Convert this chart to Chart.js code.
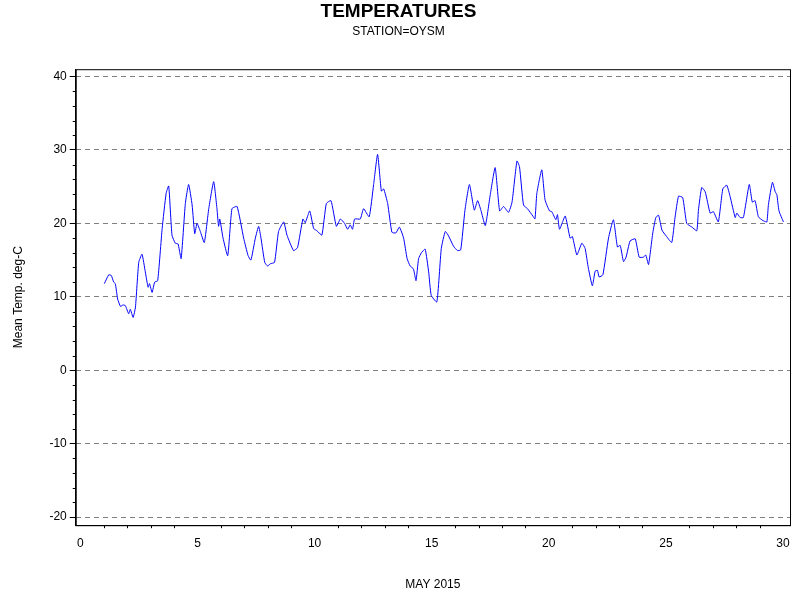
<!DOCTYPE html>
<html>
<head>
<script src="https://cdn.jsdelivr.net/npm/chart.js@4"></script>
<style>
  body { margin: 0; background: #fff; }
  #wrap { width: 800px; height: 600px; }
</style>
</head>
<body>
<div id="wrap"><canvas id="tempChart"></canvas></div>
<script>
// day of month (fractional) and mean temperature
const days = [1.02,1.21,1.32,1.42,1.49,1.59,1.71,1.82,1.92,2.06,2.13,2.25,2.35,2.49,2.63,2.77,2.89,2.95,3.06,3.17,3.30,3.49,3.66,3.77,3.91,4.05,4.17,4.30,4.48,4.62,4.77,4.88,4.98,5.12,5.29,5.48,5.69,5.83,5.90,5.95,6.09,6.29,6.47,6.69,6.97,7.16,7.28,7.47,7.61,7.71,7.87,7.99,8.11,8.29,8.46,8.68,8.82,9.10,9.27,9.50,9.60,9.79,
  9.96,10.10,10.31,10.50,10.70,10.93,11.10,11.28,11.41,11.52,11.62,11.71,11.95,12.09,12.33,12.52,12.69,12.85,12.95,13.12,13.30,13.47,13.62,13.80,13.95,14.08,14.22,14.33,14.44,14.56,14.72,14.87,14.98,15.22,15.41,15.58,15.72,15.93,16.10,16.24,16.42,16.61,16.82,16.96,17.10,17.29,17.50,17.71,17.90,18.07,18.28,18.43,18.64,18.75,18.92,19.09,19.32,19.41,19.49,19.70,19.84,20.03,
  20.13,20.30,20.37,20.46,20.70,20.91,21.01,21.20,21.41,21.55,21.69,21.86,21.98,22.08,22.15,22.31,22.55,22.76,22.93,23.05,23.19,23.30,23.47,23.69,23.86,24.04,24.14,24.26,24.44,24.57,24.69,24.83,25.01,25.25,25.39,25.54,25.72,25.89,26.11,26.32,26.39,26.53,26.68,26.89,27.03,27.24,27.43,27.60,27.74,27.96,28.03,28.17,28.31,28.56,28.69,28.81,28.95,29.14,29.31,29.38,29.55,29.67,29.74,29.83,30.02];
const temps = [11.8,13.0,12.9,12.0,11.8,9.7,8.7,8.9,8.8,7.7,8.3,7.2,8.6,14.7,15.8,13.4,11.3,11.8,10.6,12.0,12.2,19.3,24.1,25.1,18.4,17.3,17.2,15.2,22.7,25.3,22.5,18.6,20.0,18.9,17.4,22.0,25.7,22.0,19.6,20.6,18.0,15.6,22.0,22.3,18.0,15.6,15.0,18.0,19.6,18.0,14.7,14.2,14.5,14.7,18.9,20.2,18.4,16.3,16.7,20.6,20.1,21.7,
  19.3,19.0,18.4,22.7,23.1,19.6,20.6,20.0,19.2,19.8,19.2,20.6,20.6,22.0,20.9,25.3,29.4,24.4,24.7,22.7,18.8,18.7,19.5,18.0,15.2,14.2,13.8,12.2,15.2,16.0,16.5,13.4,10.2,9.3,16.6,18.9,18.3,16.9,16.3,16.4,21.8,25.3,21.8,23.1,21.8,19.7,23.9,27.6,21.7,22.3,21.5,22.9,28.5,27.7,22.5,22.0,21.0,20.6,24.1,27.3,23.2,21.7,
  21.6,20.5,21.2,19.2,21.0,18.0,18.2,15.7,17.3,16.6,13.9,11.5,13.5,13.6,12.7,13.0,18.0,20.5,16.8,17.0,14.8,15.4,17.6,17.9,15.4,15.4,15.7,14.4,18.7,20.8,21.1,19.1,18.3,17.4,20.8,23.7,23.5,20.0,19.5,19.0,21.8,24.9,24.3,21.4,21.6,20.2,24.7,25.2,23.7,20.8,21.4,20.8,20.8,25.3,22.9,23.1,20.9,20.4,20.2,22.6,25.6,24.3,23.9,21.7,20.2];
const xTicks = [0, 5, 10, 15, 20, 25, 30];
const yTicks = [-20, -10, 0, 10, 20, 30, 40];

// frame around plot + minor tick marks like the SAS output
const framePlugin = {
  id: 'frame',
  afterDraw(chart) {
    const { ctx, chartArea: a, scales } = chart;
    ctx.save();
    ctx.strokeStyle = '#000';
    ctx.lineWidth = 1;
    ctx.strokeRect(a.left + 0.5, a.top + 0.5, a.right - a.left, a.bottom - a.top);
    ctx.beginPath();
    for (let v = -20; v <= 40; v += 2) {
      if (v % 10 === 0) continue;
      const y = Math.round(scales.y.getPixelForValue(v)) + 0.5;
      ctx.moveTo(a.left - 3, y); ctx.lineTo(a.left, y);
    }
    for (let d = 0; d <= 30; d++) {
      if (d % 5 === 0) continue;
      const x = Math.round(scales.x.getPixelForValue(d)) + 0.5;
      ctx.moveTo(x, a.bottom); ctx.lineTo(x, a.bottom + 3);
    }
    ctx.stroke();
    ctx.restore();
  }
};

new Chart(document.getElementById('tempChart'), {
  type: 'line',
  data: {
    datasets: [{
      data: days.map((d, i) => ({ x: d, y: temps[i] })),
      borderColor: '#0000ff',
      borderWidth: 1,
      pointRadius: 0,
      tension: 0.15,
      fill: false
    }]
  },
  plugins: [framePlugin],
  options: {
    responsive: true,
    maintainAspectRatio: false,
    animation: false,
    layout: { padding: { left: 7, right: 10, top: 0, bottom: 4 } },
    plugins: {
      legend: { display: false },
      tooltip: { enabled: false },
      title: {
        display: true, text: 'TEMPERATURES', color: '#000',
        font: { family: 'Arial, Liberation Sans', size: 19, weight: 'bold' },
        padding: { top: 0, bottom: 0 }
      },
      subtitle: {
        display: true, text: 'STATION=OYSM', color: '#000',
        font: { family: 'Arial, Liberation Sans', size: 12 },
        padding: { top: 2, bottom: 30 }
      }
    },
    scales: {
      x: {
        type: 'linear', min: -0.2, max: 30.3,
        afterBuildTicks: s => { s.ticks = xTicks.map(v => ({ value: v })); },
        grid: { display: false, drawTicks: true },
        border: { color: '#000' },
        ticks: { color: '#000', font: { family: 'Arial, Liberation Sans', size: 12 } },
        title: { display: true, text: 'MAY 2015', color: '#000', padding: { top: 24 },
          font: { family: 'Arial, Liberation Sans', size: 12 } }
      },
      y: {
        min: -21.1, max: 41,
        afterBuildTicks: s => { s.ticks = yTicks.map(v => ({ value: v })); },
        grid: { color: '#808080', tickColor: '#000', tickLength: 6 },
        border: { color: '#000', dash: [5, 4] },
        ticks: { color: '#000', font: { family: 'Arial, Liberation Sans', size: 12 } },
        title: { display: true, text: 'Mean Temp. deg-C', color: '#000', padding: { bottom: 21 },
          font: { family: 'Arial, Liberation Sans', size: 12 } }
      }
    }
  }
});
</script>
</body>
</html>
